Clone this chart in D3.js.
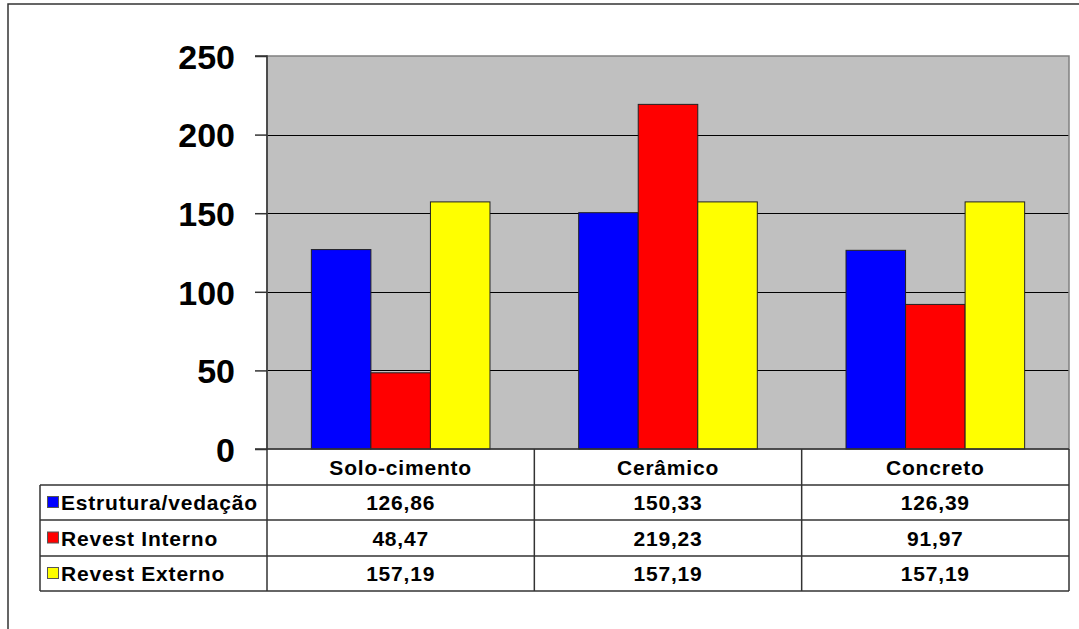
<!DOCTYPE html>
<html><head><meta charset="utf-8">
<script src="https://cdn.jsdelivr.net/npm/d3@7"></script>
<style>body{margin:0;background:#fff}svg{display:block}</style>
</head><body><svg id="c" width="1079" height="629"></svg>
<script>
const categories = ["Solo-cimento", "Cerâmico", "Concreto"];
const seriesNames = ["Estrutura/vedação", "Revest Interno", "Revest Externo"];
const estrutura = [126.86, 150.33, 126.39];
const revInterno = [48.47, 219.23, 91.97];
const revExterno = [157.19, 157.19, 157.19];
const yTicks = [0, 50, 100, 150, 200, 250];
const colors = ["#0000ff", "#ff0000", "#ffff00"];
const seriesValues = [estrutura, revInterno, revExterno];
const fmt = v => v.toFixed(2).replace(".", ",");

const svg = d3.select("#c");
const L = 267, R = 1069, T = 56, B = 449;
const font = "'Liberation Sans', Arial, sans-serif";

// outer frame
svg.append("rect").attr("x", 8).attr("y", 4).attr("width", 1200).attr("height", 800)
  .attr("fill", "none").attr("stroke", "#333").attr("stroke-width", 1.5);

const y = d3.scaleLinear().domain([0, 250]).range([B, T]);
const x0 = d3.scaleBand().domain(categories).range([L, R]).padding(0);
const x1 = d3.scaleBand().domain(seriesNames).range([0, x0.bandwidth()]).paddingInner(0).paddingOuter(0.745);

// plot area
svg.append("rect").attr("x", L).attr("y", T).attr("width", R - L).attr("height", B - T)
  .attr("fill", "#c0c0c0");
// gridlines
svg.append("g").selectAll("line").data(yTicks.filter(t => t > 0 && t < 250)).join("line")
  .attr("x1", L).attr("x2", R).attr("y1", d => Math.round(y(d)) + 0.5).attr("y2", d => Math.round(y(d)) + 0.5)
  .attr("stroke", "#000").attr("stroke-width", 1);
svg.append("rect").attr("x", L).attr("y", T).attr("width", R - L).attr("height", B - T)
  .attr("fill", "none").attr("stroke", "#808080").attr("stroke-width", 1.5);

// bars
seriesNames.forEach((s, si) => {
  svg.append("g").selectAll("rect").data(categories).join("rect")
    .attr("x", c => x0(c) + x1(s))
    .attr("width", x1.bandwidth())
    .attr("y", (c, i) => y(seriesValues[si][i]))
    .attr("height", (c, i) => B - y(seriesValues[si][i]))
    .attr("fill", colors[si]).attr("stroke", "#222").attr("stroke-width", 1);
});

// y axis
const yAxis = d3.axisLeft(y).tickValues(yTicks).tickSize(12).tickPadding(21).tickFormat(d3.format("d"));
const ga = svg.append("g").attr("transform", `translate(${L},0)`).call(yAxis);
ga.select(".domain").attr("stroke", "#333").attr("stroke-width", 1.5).attr("d", `M-12,${T}H0V${B}H-12`);
ga.selectAll(".tick line").attr("stroke", "#333").attr("stroke-width", 1.5);
ga.selectAll(".tick text").attr("font-family", font).attr("font-weight", "bold")
  .attr("font-size", 34).attr("fill", "#000").attr("dx", 1).attr("dy", "0.36em");

// data table
const rowsY = [449, 485, 520, 556, 591];
const tL = 40;
const tbl = svg.append("g").attr("stroke", "#333").attr("stroke-width", 1.5);
rowsY.forEach((ry, i) => {
  tbl.append("line").attr("x1", i === 0 ? L : tL).attr("x2", R).attr("y1", ry).attr("y2", ry);
});
tbl.append("line").attr("x1", tL).attr("x2", tL).attr("y1", rowsY[1]).attr("y2", rowsY[4]);
[L, ...categories.map(c => x0(c) + x0.bandwidth())].forEach(vx => {
  tbl.append("line").attr("x1", vx).attr("x2", vx).attr("y1", B).attr("y2", rowsY[4]);
});

const txt = svg.append("g").attr("font-family", font).attr("font-weight", "bold")
  .attr("font-size", 21).attr("letter-spacing", "0.8px").attr("fill", "#000");
categories.forEach(c => {
  txt.append("text").attr("x", x0(c) + x0.bandwidth() / 2).attr("y", (rowsY[0] + rowsY[1]) / 2)
    .attr("text-anchor", "middle").attr("dy", "0.36em").text(c);
});
seriesNames.forEach((s, si) => {
  const cy = (rowsY[si + 1] + rowsY[si + 2]) / 2;
  svg.append("rect").attr("x", 47.5).attr("y", cy - 6).attr("width", 11).attr("height", 11)
    .attr("fill", colors[si]).attr("stroke", "#555").attr("stroke-width", 1);
  txt.append("text").attr("x", 61).attr("y", cy).attr("dy", "0.36em").attr("letter-spacing", "0.8px").text(s);
  categories.forEach((c, ci) => {
    txt.append("text").attr("x", x0(c) + x0.bandwidth() / 2).attr("y", cy)
      .attr("text-anchor", "middle").attr("dy", "0.36em").text(fmt(seriesValues[si][ci]));
  });
});
</script></body></html>
